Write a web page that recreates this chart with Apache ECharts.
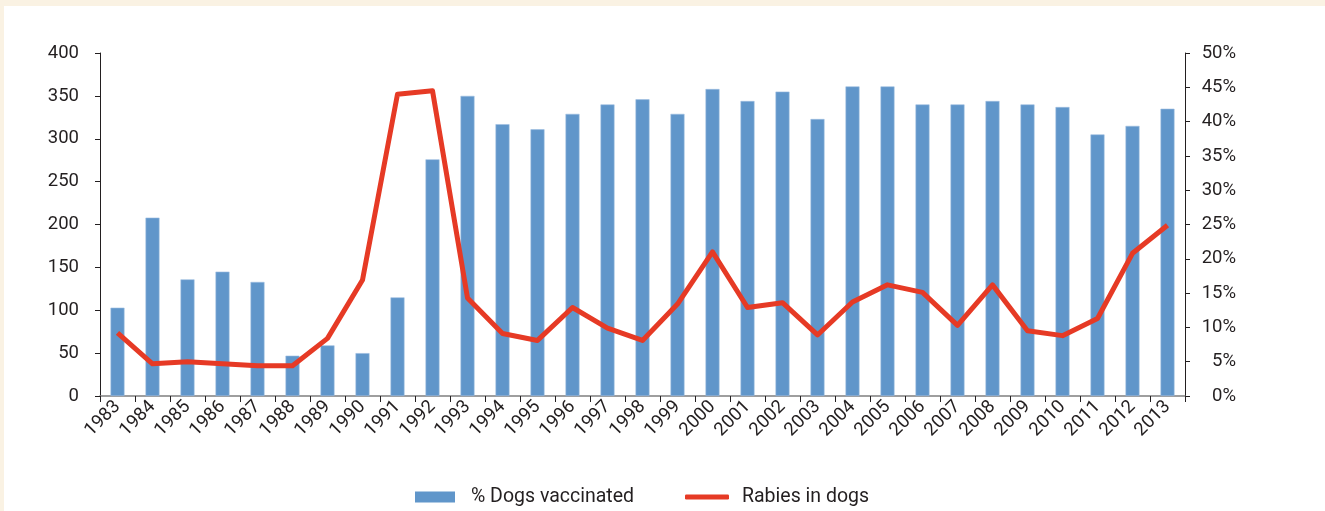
<!DOCTYPE html>
<html>
<head>
<meta charset="utf-8">
<script src="https://cdn.jsdelivr.net/npm/echarts@6/dist/echarts.min.js"></script>
<style>
html,body{margin:0;padding:0;background:#FAF2E3;}
#c{width:1325px;height:511px;}
</style>
</head>
<body>
<div id="c"></div>
<script>
const years = ['1983','1984','1985','1986','1987','1988','1989','1990','1991','1992','1993','1994','1995','1996','1997','1998','1999','2000','2001','2002','2003','2004','2005','2006','2007','2008','2009','2010','2011','2012','2013'];
const dogsVaccinated = [103,208,136,145,133,47,59,50,115,276,350,317,311,329,340,346,329,358,344,355,323,361,361,340,340,344,340,337,305,315,335];
const rabiesInDogs = [9.2,4.7,5.0,4.7,4.4,4.4,8.4,16.9,44.0,44.5,14.3,9.1,8.1,12.9,9.9,8.1,13.4,21.0,12.9,13.6,8.9,13.7,16.2,15.1,10.3,16.2,9.5,8.8,11.3,20.8,24.9];
const leftTicks = {min:0, max:400, interval:50};
const rightTicks = {min:0, max:50, interval:5};

const FONT = "Roboto,'Liberation Sans',sans-serif";
const TXT = '#231F20';
const chart = echarts.init(document.getElementById('c'));
chart.setOption({
  backgroundColor: '#FAF2E3',
  animation: false,
  textStyle: {fontFamily: FONT, color: TXT},
  graphic: [{type:'rect', left:4, top:6, shape:{width:1325, height:511}, style:{fill:'#ffffff'}, z:-10}],
  grid: {left:100, right:140, top:53, bottom:115},
  legend: [
    {data:['% Dogs vaccinated'], left:415, top:487, padding:0, itemWidth:40, itemHeight:11, icon:'rect',
     itemStyle:{borderWidth:0},
     textStyle:{fontFamily:FONT, fontSize:19.5, color:TXT, padding:[0,0,0,11]}},
    {data:['Rabies in dogs'], left:685, top:487, padding:0, itemWidth:44, itemHeight:5, icon:'roundRect',
     itemStyle:{borderWidth:0},
     textStyle:{fontFamily:FONT, fontSize:19.5, color:TXT, padding:[0,0,0,8]}}
  ],
  xAxis: {
    type:'category', data: years, boundaryGap:true,
    axisLine:{show:true, lineStyle:{color:'#7f7f7f', width:1.5}},
    axisTick:{show:true, alignWithLabel:false, interval:0, length:6, lineStyle:{color:'#231F20'}},
    axisLabel:{interval:0, rotate:45, margin:8, fontFamily:FONT, fontSize:18.5, color:TXT}
  },
  yAxis: [
    {type:'value', min:leftTicks.min, max:leftTicks.max, interval:leftTicks.interval, position:'left',
     splitLine:{show:false},
     axisLine:{show:true, lineStyle:{color:'#231F20', width:1}},
     axisTick:{show:true, length:5, lineStyle:{color:'#231F20'}},
     axisLabel:{margin:21, fontFamily:FONT, fontSize:18.5, color:TXT}},
    {type:'value', min:rightTicks.min, max:rightTicks.max, interval:rightTicks.interval, position:'right',
     splitLine:{show:false},
     axisLine:{show:true, lineStyle:{color:'#231F20', width:1}},
     axisTick:{show:true, length:5, lineStyle:{color:'#231F20'}},
     axisLabel:{margin:51, align:'right', formatter:'{value}%', fontFamily:FONT, fontSize:18.5, color:TXT}}
  ],
  series: [
    {name:'% Dogs vaccinated', type:'bar', yAxisIndex:0, data:dogsVaccinated, barWidth:14,
     itemStyle:{color:'#6096CA', borderColor:'#9EBEE0', borderWidth:0.6}},
    {name:'Rabies in dogs', type:'line', yAxisIndex:1, data:rabiesInDogs, symbol:'none',
     lineStyle:{color:'#E63A25', width:5, join:'round'}, itemStyle:{color:'#E63A25'}}
  ]
});
</script>
</body>
</html>
